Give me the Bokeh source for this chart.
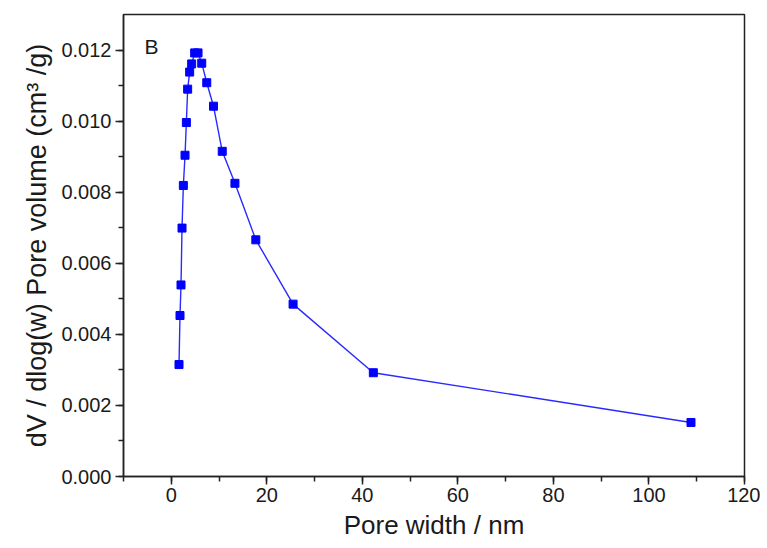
from bokeh.plotting import figure
from bokeh.models import Range1d, SingleIntervalTicker, PrintfTickFormatter, Label
from bokeh.embed import file_html
from bokeh.resources import INLINE

pore_width = [1.62, 1.83, 2.04, 2.25, 2.53, 2.88, 3.16, 3.43, 3.85, 4.27, 4.9, 5.6,
              6.38, 7.43, 8.84, 10.67, 13.33, 17.7, 25.5, 42.3, 108.8]
pore_volume = [0.00315, 0.00453, 0.00539, 0.00699, 0.00819, 0.00904, 0.00996, 0.01090,
               0.01138, 0.01161, 0.01192, 0.01192, 0.01163, 0.01108, 0.01042, 0.00915,
               0.00825, 0.00666, 0.00485, 0.00292, 0.00152]

FONT = "Liberation Sans"

p = figure(width=760, height=546, output_backend="svg", toolbar_location=None,
           x_range=Range1d(-10, 120), y_range=Range1d(0, 0.013),
           min_border_left=123, min_border_right=16, min_border_top=14, min_border_bottom=70)

p.line(pore_width, pore_volume, line_color="#2a2aff", line_width=1.4)
p.scatter(pore_width, pore_volume, marker="square", size=8, fill_color="#0000ff", line_color="#0000ff")

p.xgrid.visible = False
p.ygrid.visible = False
p.outline_line_color = "#222222"
p.outline_line_width = 1.5
p.background_fill_color = "white"
p.border_fill_color = "white"

p.xaxis.ticker = SingleIntervalTicker(interval=20, num_minor_ticks=2)
p.yaxis.ticker = SingleIntervalTicker(interval=0.002, num_minor_ticks=2)
p.yaxis.formatter = PrintfTickFormatter(format="%.3f")

for ax in (p.xaxis, p.yaxis):
    ax.axis_line_color = "#222222"
    ax.axis_line_width = 1.5
    ax.major_tick_line_color = "#222222"
    ax.minor_tick_line_color = "#222222"
    ax.major_tick_line_width = 1.5
    ax.minor_tick_line_width = 1.5
    ax.major_tick_in = 0
    ax.major_tick_out = 8
    ax.minor_tick_in = 0
    ax.minor_tick_out = 5
    ax.major_label_text_font = FONT
    ax.major_label_text_font_size = "20px"
    ax.major_label_text_color = "#1a1a1a"
    ax.axis_label_text_font = FONT
    ax.axis_label_text_font_style = "normal"
    ax.axis_label_text_color = "#1a1a1a"

p.xaxis.axis_label_text_font_size = "26px"
p.yaxis.axis_label_text_font_size = "27px"
p.xaxis.axis_label = "Pore width / nm"
p.yaxis.axis_label = "dV / dlog(w) Pore volume (cm³ /g)"
p.xaxis.major_label_standoff = 3
p.xaxis.axis_label_standoff = 5
p.yaxis.major_label_standoff = 4
p.yaxis.axis_label_standoff = 6

p.add_layout(Label(x=-5.6, y=0.0121, text="B", text_font=FONT, text_font_size="21px",
                   text_color="#1a1a1a", text_baseline="middle"))

open("out.html", "w").write(file_html(p, INLINE))
